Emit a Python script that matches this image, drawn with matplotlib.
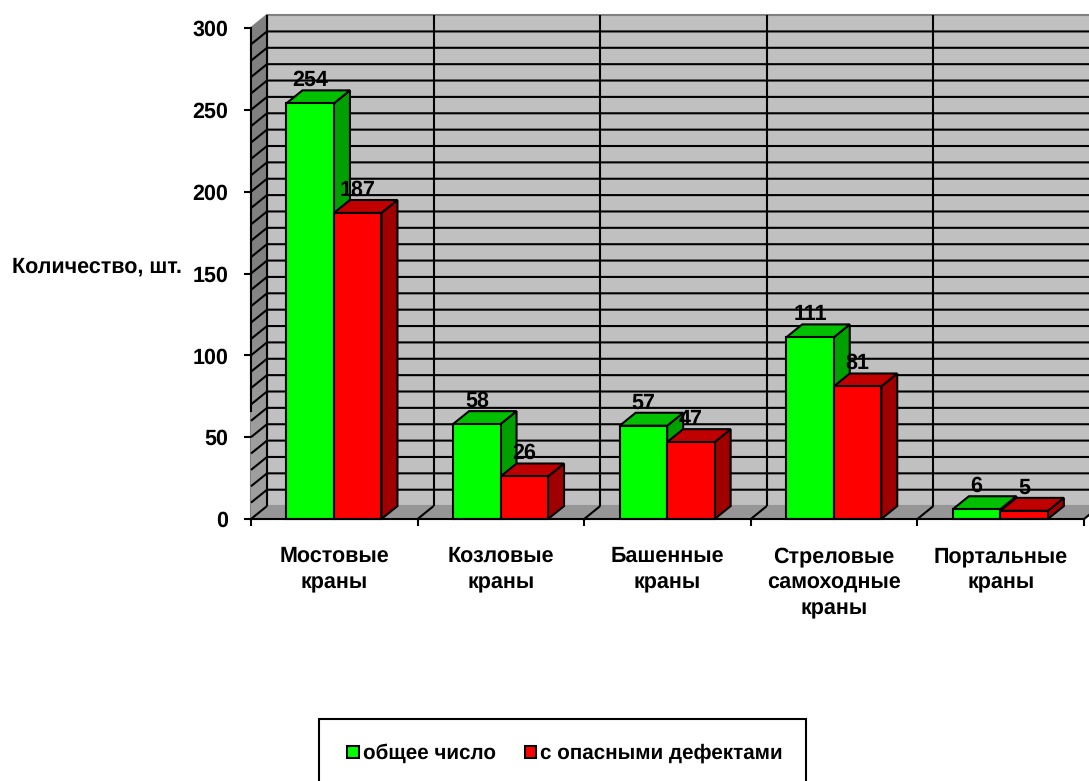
import matplotlib
matplotlib.use('Agg')
import matplotlib.pyplot as plt
import numpy as np
from matplotlib.patches import Polygon, Patch, Rectangle
from matplotlib import rcParams

rcParams['font.family'] = ['Liberation Sans', 'DejaVu Sans']
rcParams['font.weight'] = 'bold'
rcParams['text.hinting'] = 'no_hinting'

categories = ['Мостовые\nкраны', 'Козловые\nкраны', 'Башенные\nкраны',
              'Стреловые\nсамоходные\nкраны', 'Портальные\nкраны']
total = [254, 58, 57, 111, 6]
dangerous = [187, 26, 47, 81, 5]
series_names = ['общее число', 'с опасными дефектами']
y_ticks = [0, 50, 100, 150, 200, 250, 300]
y_grid = list(range(10, 300, 10))

W, H = 1089, 781
# pseudo-3d depth, in data units
DX = 0.096
DY = 7.9
BAR_W = 0.285
BAR_START = 0.213
LW = 1.5
FS = 15.5
LEGEND_FS = 14.9
GREENS = ('#00FF00', '#00C000', '#00A000')
REDS = ('#FF0000', '#C00000', '#A00000')


def poly(ax, pts, color, z, edge='black', lw=LW):
    patch = Polygon(pts, closed=True, facecolor=color, edgecolor=edge, linewidth=lw,
                    joinstyle='miter', zorder=z, clip_on=False)
    ax.add_patch(patch)
    return patch


def line(ax, xs, ys, z=2, color='black', lw=LW):
    ax.plot(xs, ys, color=color, linewidth=lw, zorder=z, clip_on=False, solid_capstyle='butt')


def shade(ax, patch, extent, levels):
    '''Fill a wall polygon with a grey ramp running from its top to its bottom.'''
    ramp = np.array(levels).reshape(-1, 1)
    im = ax.imshow(ramp, extent=extent, cmap='gray', vmin=0, vmax=1, aspect='auto',
                   interpolation='bilinear', zorder=1.1)
    im.set_clip_path(patch)


def bar3d(ax, left, value, colors, z):
    right = left + BAR_W
    poly(ax, [(right, 0), (right + DX, DY), (right + DX, value + DY), (right, value)], colors[2], z)
    poly(ax, [(left, value), (left + DX, value + DY), (right + DX, value + DY), (right, value)], colors[1], z)
    ax.bar(left, value, width=BAR_W, align='edge', color=colors[0], edgecolor='black',
           linewidth=LW, zorder=z + 0.1, clip_on=False)
    ax.annotate(str(value), (left + BAR_W / 2, value), xytext=(0, 16.5), textcoords='offset points',
                ha='center', va='center', fontsize=FS, zorder=20, annotation_clip=False)


fig = plt.figure(figsize=(W / 100, H / 100), dpi=100, facecolor='white')
ax = fig.add_axes([251 / W, 1 - 519 / H, (1084 - 251) / W, (519 - 28) / H])
ax.patch.set_visible(False)
for s in ['top', 'right']:
    ax.spines[s].set_visible(False)
for s in ['left', 'bottom']:
    ax.spines[s].set_linewidth(LW)
    ax.spines[s].set_zorder(15)
ax.spines['left'].set_bounds(66, 300)

# walls and floor
poly(ax, [(DX, DY), (5 + DX, DY), (5 + DX, 300 + DY), (DX, 300 + DY)], '#C0C0C0', 1, edge='#808080')
side = poly(ax, [(0, 0), (DX, DY), (DX, 300 + DY), (0, 300)], '#808080', 1, edge='#808080')
floor = poly(ax, [(0, 0), (5, 0), (5 + DX, DY), (DX, DY)], '#969696', 1, edge='#969696')
shade(ax, side, (0, DX, 0, 300 + DY), [0.5, 0.5, 0.62])
ax.set_xlim(0, 5)
ax.set_ylim(0, 300)

for v in y_grid:
    line(ax, [0, DX, 5 + DX], [v, v + DY, v + DY])
for i in range(0, 6):
    line(ax, [i, i + DX], [0, DY])
    line(ax, [i + DX, i + DX], [DY, 300 + DY])

for i in range(len(categories)):
    bar3d(ax, i + BAR_START, total[i], GREENS, 5 + i)
    bar3d(ax, i + BAR_START + BAR_W, dangerous[i], REDS, 5.5 + i)

ax.set_yticks(y_ticks)
ax.set_xticks(range(6))
ax.set_xticklabels([])
ax.set_xticks([i + 0.5 for i in range(5)], categories, minor=True)
ax.tick_params(axis='x', which='minor', length=0, pad=19.5, labelsize=FS)
ax.tick_params(axis='x', which='major', length=5, width=LW)
ax.tick_params(axis='y', length=5, width=LW, pad=11.5, labelsize=FS)
for label in ax.get_xticklabels(minor=True):
    label.set_linespacing(1.37)

fig.text(97 / W, 1 - 267 / H, 'Количество, шт.', ha='center', va='center', fontsize=FS)

# legend box runs past the lower edge of the figure
fig.add_artist(Rectangle((319 / W, -20 / H), 487 / W, (H - 719 + 20) / H, transform=fig.transFigure,
                         facecolor='white', edgecolor='black', linewidth=LW, zorder=3))
handles = [Patch(facecolor=GREENS[0], edgecolor='black', linewidth=LW),
           Patch(facecolor=REDS[0], edgecolor='black', linewidth=LW)]
leg = fig.legend(handles, series_names, loc='upper left', bbox_to_anchor=(320.5 / W, 1 - 717 / H),
                 ncol=2, fontsize=LEGEND_FS, frameon=False,
                 handlelength=0.55, handleheight=0.55, handletextpad=0.2, columnspacing=1.4,
                 borderpad=1.3, borderaxespad=0, labelspacing=0)
leg.set_zorder(4)

fig.savefig('out.png', dpi=100)
